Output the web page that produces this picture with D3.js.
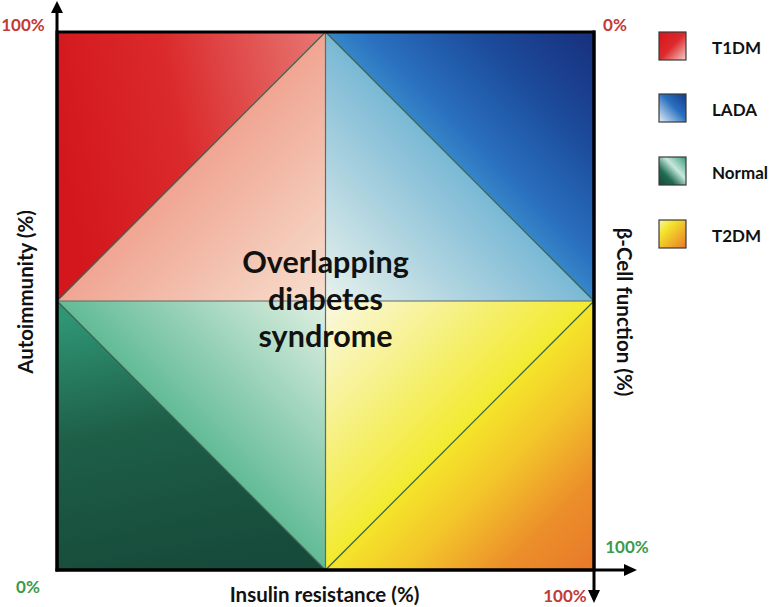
<!DOCTYPE html>
<html>
<head>
<meta charset="utf-8">
<script src="https://cdn.jsdelivr.net/npm/d3@7"></script>
<style>
  html, body { margin: 0; padding: 0; background: #fff; }
  svg { display: block; font-family: Lato, "Open Sans", sans-serif; }
</style>
</head>
<body>
<svg id="chart" width="774" height="607"></svg>
<script>
// ---------- data ----------
const categories = ["T1DM", "LADA", "Normal", "T2DM"];
// quadrant corner of each category in (insulin resistance %, autoimmunity %)
const quadrantCorner = [[0, 100], [100, 100], [0, 0], [100, 0]];
const centerPoint = [50, 50];
const axisMin = 0, axisMax = 100;
const leftTickLabels = ["100%", "0%"];
const bottomTickLabels = ["0%", "100%"];
const rightTickLabels = ["0%", "100%"];
const xTitle = "Insulin resistance (%)";
const yTitle = "Autoimmunity (%)";
const y2Title = "β-Cell function (%)";
const centerText = ["Overlapping", "diabetes", "syndrome"];

// ---------- styles ----------
const outerStops = {
  T1DM:   [["0%", "#d3171d"], ["45%", "#db2a2c"], ["100%", "#e6736f"]],
  LADA:   [["0%", "#172f7c"], ["45%", "#1c4c9c"], ["85%", "#2a70bf"], ["100%", "#3686c8"]],
  Normal: [["0%", "#2f9675"], ["45%", "#1e5f48"], ["100%", "#164a3a"]],
  T2DM:   [["0%", "#f5e52a"], ["30%", "#f3c42a"], ["65%", "#ec8f2a"], ["100%", "#e8782a"]]
};
const innerStops = {
  T1DM:   [["0%", "#f0a592"], ["100%", "#f7dfcf"]],
  LADA:   [["0%", "#7ab8d5"], ["100%", "#e8f2ec"]],
  Normal: [["0%", "#62bb96"], ["100%", "#e0f0e3"]],
  T2DM:   [["0%", "#f3ea2e"], ["100%", "#faf8e2"]]
};
const legendStops = {
  T1DM:   {dir: [0, 0, 1, 1], stops: [["0%", "#d4161c"], ["50%", "#dd2a2c"], ["100%", "#f6cfcc"]]},
  LADA:   {dir: [1, 0, 0, 1], stops: [["0%", "#163a8a"], ["45%", "#2a70c0"], ["100%", "#e4f1f7"]]},
  Normal: {dir: [0, 1, 1, 0], stops: [["0%", "#164a3a"], ["30%", "#1f6b52"], ["60%", "#c6e8dc"], ["100%", "#3a9a7a"]]},
  T2DM:   {dir: [0, 0, 1, 1], stops: [["0%", "#fbf3b0"], ["30%", "#f4e42a"], ["100%", "#e8792a"]]}
};
const redText = "#c33a35", greenText = "#3c9a4c";

// ---------- scales ----------
const x = d3.scaleLinear().domain([axisMin, axisMax]).range([57, 594]);
const y = d3.scaleLinear().domain([axisMin, axisMax]).range([570, 32]);

const svg = d3.select("#chart");
const defs = svg.append("defs");

function addGrad(id, p1, p2, stops, units) {
  const g = defs.append("linearGradient").attr("id", id);
  if (units === "user") g.attr("gradientUnits", "userSpaceOnUse");
  g.attr("x1", p1[0]).attr("y1", p1[1]).attr("x2", p2[0]).attr("y2", p2[1]);
  stops.forEach(s => g.append("stop").attr("offset", s[0]).attr("stop-color", s[1]));
}

const px = p => [x(p[0]), y(p[1])];
const line = d3.line();

categories.forEach((cat, i) => {
  const c = quadrantCorner[i];
  const m = centerPoint;
  const hA = [c[0], m[1]];
  const vA = [m[0], c[1]];
  const mid = [(hA[0] + vA[0]) / 2, (hA[1] + vA[1]) / 2];

  let g1, g2;
  if (cat === "T1DM") { g1 = [c[0], (c[1] + m[1]) / 2 + 5]; g2 = [m[0], (c[1] + m[1]) / 2 + 15]; }
  else if (cat === "Normal") { g1 = [mid[0] - 10, m[1]]; g2 = [mid[0], c[1]]; }
  else if (cat === "LADA") { g1 = c; g2 = mid; }
  else { g1 = mid; g2 = c; }
  addGrad("out-" + i, px(g1), px(g2), outerStops[cat], "user");
  addGrad("in-" + i, px(mid), px(m), innerStops[cat], "user");

  svg.append("path").attr("d", line([c, vA, hA].map(px)) + "Z").attr("fill", `url(#out-${i})`);
  svg.append("path").attr("d", line([vA, hA, m].map(px)) + "Z").attr("fill", `url(#in-${i})`);
  svg.append("line")
    .attr("x1", x(vA[0])).attr("y1", y(vA[1]))
    .attr("x2", x(hA[0])).attr("y2", y(hA[1]))
    .attr("stroke", "#3a6450").attr("stroke-width", 1.3);
});

// cross lines
svg.append("line").attr("x1", x(50)).attr("x2", x(50)).attr("y1", y(100)).attr("y2", y(0))
  .attr("stroke", "#5e6a62").attr("stroke-width", 1.2);
svg.append("line").attr("x1", x(0)).attr("x2", x(100)).attr("y1", y(50)).attr("y2", y(50))
  .attr("stroke", "#5e6a62").attr("stroke-width", 1.2);

// border
svg.append("rect").attr("x", x(0)).attr("y", y(100))
  .attr("width", x(100) - x(0)).attr("height", y(0) - y(100))
  .attr("fill", "none").attr("stroke", "#000").attr("stroke-width", 3);

// axes with arrows
const axisG = svg.append("g").attr("stroke", "#000").attr("stroke-width", 3);
axisG.append("line").attr("x1", x(0)).attr("x2", x(0)).attr("y1", y(0) + 1.5).attr("y2", 10);
axisG.append("line").attr("x1", x(0) - 1.5).attr("x2", 626).attr("y1", y(0)).attr("y2", y(0));
axisG.append("line").attr("x1", x(100)).attr("x2", x(100)).attr("y1", y(100) - 1.5).attr("y2", 592);
svg.append("path").attr("d", `M${x(0)},1 L${x(0) - 6},13 L${x(0) + 6},13 Z`).attr("fill", "#000");
svg.append("path").attr("d", `M637,${y(0)} L624,${y(0) - 6} L624,${y(0) + 6} Z`).attr("fill", "#000");
svg.append("path").attr("d", `M${x(100)},603 L${x(100) - 6},590 L${x(100) + 6},590 Z`).attr("fill", "#000");

// tick labels
const tick = (t, tx, ty, col) => svg.append("text").attr("x", tx).attr("y", ty)
  .attr("text-anchor", "middle").attr("font-size", 17).attr("font-weight", 700)
  .attr("fill", col).text(t);
tick(leftTickLabels[0], 23, 31, redText);
tick(rightTickLabels[0], 615, 31, redText);
tick(bottomTickLabels[0], 28, 593, greenText);
tick(rightTickLabels[1], 627, 553, greenText);
tick(bottomTickLabels[1], 565, 602, redText);

// axis titles
const titleSize = 20.5;
svg.append("text").attr("x", x(50) - 1).attr("y", 602).attr("text-anchor", "middle")
  .attr("font-size", titleSize).attr("font-weight", 700).attr("fill", "#111").text(xTitle);
svg.append("text").attr("transform", `translate(33,292) rotate(-90)`)
  .attr("text-anchor", "middle").attr("font-size", titleSize).attr("font-weight", 700).attr("fill", "#111").text(yTitle);
svg.append("text").attr("transform", `translate(617,312) rotate(90)`)
  .attr("text-anchor", "middle").attr("font-size", titleSize).attr("font-weight", 700).attr("fill", "#111").text(y2Title);

// center text
svg.append("text").attr("text-anchor", "middle").attr("font-size", 30.5).attr("font-weight", 700)
  .attr("fill", "#111")
  .selectAll("tspan").data(centerText).join("tspan")
  .attr("x", x(50)).attr("y", (d, i) => 273 + i * 37).text(d => d);

// legend
const legendY = [32, 94, 157, 220];
categories.forEach((cat, i) => {
  const L = legendStops[cat];
  addGrad("leg-" + i, [L.dir[0], L.dir[1]], [L.dir[2], L.dir[3]], L.stops);
  svg.append("rect").attr("x", 659).attr("y", legendY[i]).attr("width", 27).attr("height", 28)
    .attr("fill", `url(#leg-${i})`).attr("stroke", "#3a3a3a").attr("stroke-width", 1.2);
  svg.append("text").attr("x", 712).attr("y", legendY[i] + 22).attr("font-size", 17)
    .attr("font-weight", 700).attr("fill", "#111").text(cat);
});
</script>
</body>
</html>
